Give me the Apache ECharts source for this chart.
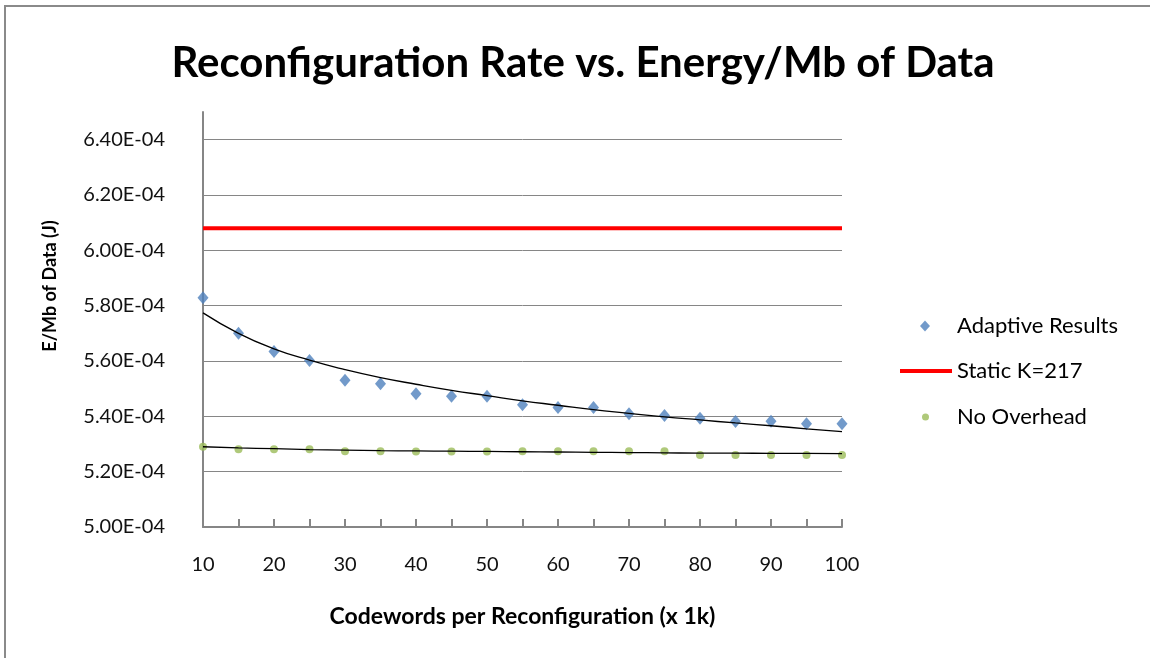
<!DOCTYPE html>
<html>
<head>
<meta charset="utf-8">
<script src="https://cdn.jsdelivr.net/npm/echarts@6/dist/echarts.min.js"></script>
<style>html,body{margin:0;padding:0;background:#fff;}#chart{width:1150px;height:658px;}</style>
</head>
<body>
<div id="chart"></div>
<script>
// ---- Data ----
const titleText = 'Reconfiguration Rate vs. Energy/Mb of Data';
const xAxisTitle = 'Codewords per Reconfiguration (x 1k)';
const yAxisTitle = 'E/Mb of Data (J)';
const seriesNames = ['Adaptive Results', 'Static K=217', 'No Overhead'];
const xValues = [10, 15, 20, 25, 30, 35, 40, 45, 50, 55, 60, 65, 70, 75, 80, 85, 90, 95, 100];
const xLabelValues = [10, 20, 30, 40, 50, 60, 70, 80, 90, 100];
const adaptiveResults = [5.829e-4, 5.700e-4, 5.634e-4, 5.602e-4, 5.530e-4, 5.518e-4, 5.482e-4, 5.473e-4, 5.473e-4, 5.442e-4,
  5.432e-4, 5.432e-4, 5.409e-4, 5.403e-4, 5.393e-4, 5.381e-4, 5.382e-4, 5.373e-4, 5.373e-4];
const staticK217 = [6.08e-4, 6.08e-4];
const staticX = [10, 100];
const noOverhead = [5.290e-4, 5.281e-4, 5.281e-4, 5.281e-4, 5.274e-4, 5.274e-4, 5.273e-4, 5.273e-4, 5.273e-4, 5.274e-4,
  5.274e-4, 5.274e-4, 5.274e-4, 5.274e-4, 5.260e-4, 5.260e-4, 5.260e-4, 5.260e-4, 5.260e-4];
const adaptiveTrend = [5.774e-4, 5.700e-4, 5.644e-4, 5.603e-4, 5.569e-4, 5.540e-4, 5.516e-4, 5.494e-4, 5.475e-4, 5.456e-4,
  5.440e-4, 5.424e-4, 5.411e-4, 5.398e-4, 5.387e-4, 5.376e-4, 5.366e-4, 5.355e-4, 5.345e-4];
const noOverheadTrend = [5.290e-4, 5.286e-4, 5.283e-4, 5.280e-4, 5.278e-4, 5.276e-4, 5.275e-4, 5.274e-4, 5.273e-4, 5.272e-4,
  5.271e-4, 5.270e-4, 5.269e-4, 5.268e-4, 5.267e-4, 5.267e-4, 5.266e-4, 5.266e-4, 5.265e-4];

const pair = (xs, ys) => xs.map((x, i) => [x, ys[i]]);
const FONT = 'Lato';
const AXIS_GRAY = '#868686';

function fmtSci(v) {
  const s = v.toExponential(2).toUpperCase(); // e.g. 6.40E-4
  const m = s.match(/^(-?[\d.]+)E([+-])(\d+)$/);
  if (!m) return s;
  return m[1] + 'E' + m[2] + (m[3].length < 2 ? '0' + m[3] : m[3]);
}

const legendText = { fontFamily: FONT, fontSize: 22, color: '#000' };

const chart = echarts.init(document.getElementById('chart'), null, { renderer: 'canvas' });
const option = {
  backgroundColor: '#ffffff',
  animation: false,
  title: {
    text: titleText,
    left: 578, top: 37, textAlign: 'center',
    textStyle: { fontFamily: FONT, fontWeight: 'bold', fontSize: 42, color: '#000' }
  },
  grid: { left: 203, right: 308, top: 112, bottom: 131, containLabel: false },
  legend: [
    { data: [{ name: seriesNames[0], icon: 'diamond' }], left: 920, top: 315, padding: 0,
      itemWidth: 10, itemHeight: 11,
      textStyle: Object.assign({ padding: [0, 0, 0, 22] }, legendText) },
    { data: [{ name: seriesNames[1], icon: 'rect' }], left: 900, top: 360, padding: 0,
      itemWidth: 52, itemHeight: 4,
      textStyle: legendText },
    { data: [{ name: seriesNames[2], icon: 'circle' }], left: 922, top: 406, padding: 0,
      itemWidth: 7, itemHeight: 7,
      textStyle: Object.assign({ padding: [0, 0, 0, 23] }, legendText) }
  ],
  xAxis: {
    type: 'value', min: 10, max: 100, interval: 5,
    name: xAxisTitle, nameLocation: 'middle', nameGap: 78,
    nameTextStyle: { fontFamily: FONT, fontWeight: 'bold', fontSize: 23, color: '#000' },
    axisLine: { show: true, lineStyle: { color: AXIS_GRAY, width: 2 } },
    axisTick: { show: true, inside: true, length: 8, lineStyle: { color: AXIS_GRAY, width: 2 } },
    axisLabel: {
      margin: 28, fontFamily: FONT, fontSize: 20, color: '#111',
      formatter: v => (xLabelValues.indexOf(Math.round(v)) >= 0 ? String(Math.round(v)) : '')
    },
    splitLine: { show: false }
  },
  yAxis: {
    type: 'value', min: 5.0e-4, max: 6.5e-4, interval: 2e-5,
    axisLine: { show: true, lineStyle: { color: AXIS_GRAY, width: 2 } },
    axisTick: { show: false },
    axisLabel: {
      margin: 38, fontFamily: FONT, fontSize: 20, color: '#111', showMaxLabel: false,
      formatter: v => fmtSci(v)
    },
    splitLine: { show: true, showMaxLine: false, lineStyle: { color: AXIS_GRAY, width: 1 } }
  },
  graphic: [
    { type: 'rect', silent: true, z: 0,
      shape: { x: 5, y: 6, width: 1200, height: 700 },
      style: { fill: 'none', stroke: '#8a8a8a', lineWidth: 2 } },
    { type: 'text', x: 50, y: 286, rotation: Math.PI / 2, silent: true,
      style: { text: yAxisTitle, fontFamily: FONT, fontWeight: 'bold', fontSize: 18, fill: '#000',
        align: 'center', verticalAlign: 'middle' } }
  ],
  series: [
    { name: seriesNames[0], type: 'scatter', data: pair(xValues, adaptiveResults),
      symbol: 'diamond', symbolSize: [11, 13], itemStyle: { color: '#4f81bd' }, z: 3 },
    { name: seriesNames[1], type: 'line', data: pair(staticX, staticK217),
      showSymbol: false, lineStyle: { color: '#ff0000', width: 4 }, itemStyle: { color: '#ff0000' }, z: 2 },
    { name: seriesNames[2], type: 'scatter', data: pair(xValues, noOverhead),
      symbol: 'circle', symbolSize: 8, itemStyle: { color: '#9bbb59' }, z: 3 },
    { name: 'adaptiveTrend', type: 'line', data: pair(xValues, adaptiveTrend), smooth: true,
      showSymbol: false, lineStyle: { color: '#000', width: 1.3 }, z: 4, silent: true },
    { name: 'noOverheadTrend', type: 'line', data: pair(xValues, noOverheadTrend), smooth: true,
      showSymbol: false, lineStyle: { color: '#000', width: 1.3 }, z: 4, silent: true }
  ]
};
chart.setOption(option);
</script>
</body>
</html>
